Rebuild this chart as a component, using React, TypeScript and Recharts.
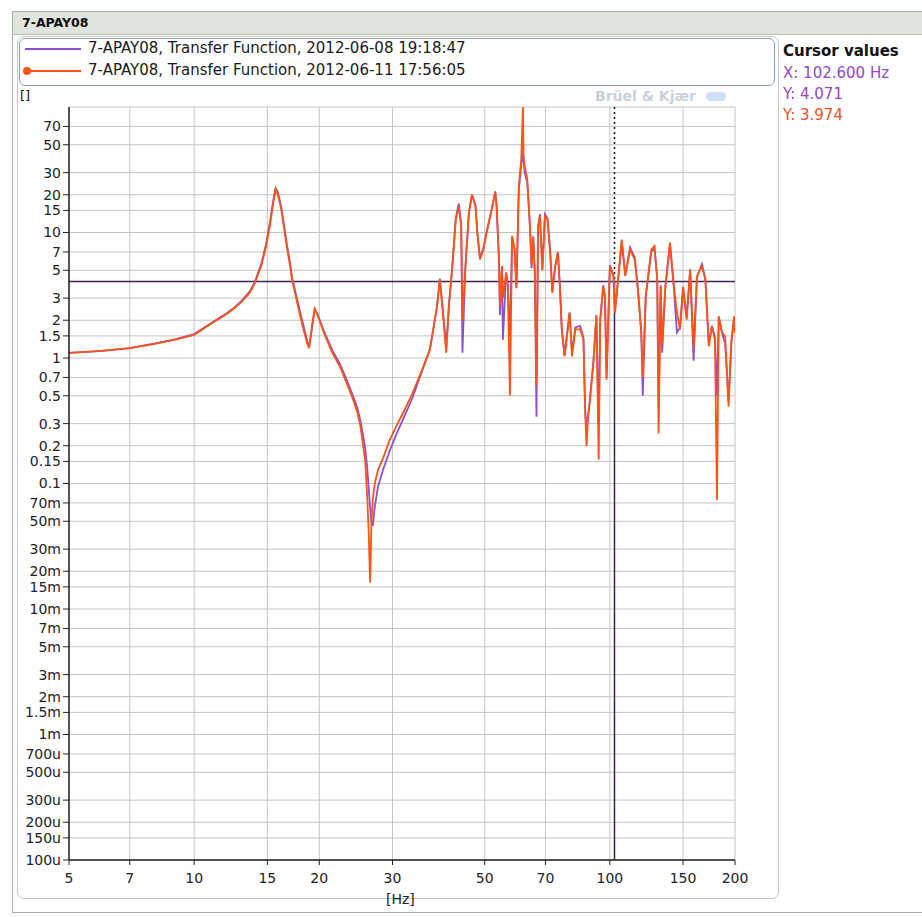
import React from 'react';
import { LineChart, Line, XAxis, YAxis, CartesianGrid, ReferenceLine } from 'recharts';

// Frequencies [Hz]
const freqHz = [
  5, 5.5, 6, 7, 8, 9, 10, 11, 12, 12.5,
  13, 13.6, 14.0, 14.5, 14.9, 15.2, 15.5, 15.7, 15.9, 16.2,
  16.7, 17.0, 17.2, 17.7, 18.0, 18.4, 18.7, 18.9, 19.2, 19.5,
  19.8, 20.5, 21.5, 22.4, 23.2, 24.1, 24.7, 25.1, 25.5, 25.8,
  26.1, 26.3, 26.5, 26.7, 26.9, 27.2, 27.7, 28.5, 29.5, 30.7,
  32, 33.5, 34.3, 35.2, 35.9, 36.9, 37.5, 38.4, 39.0, 39.8,
  40.4, 41.0, 41.8, 42.6, 43.3, 43.9, 44.2, 44.9, 45.8, 46.6,
  47.5, 48.0, 48.7, 49.6, 50.5, 52.0, 53.0, 53.4, 54.1, 54.4,
  55.0, 55.3, 56.3, 56.8, 57.5, 58.2, 59.0, 59.6, 60.4, 61.2,
  61.8, 62.0, 62.4, 63.3, 64.3, 64.8, 65.4, 66.0, 66.6, 67.2,
  67.9, 68.8, 69.8, 70.8, 71.8, 72.7, 73.9, 75.0, 75.9, 76.6,
  77.8, 78.5, 80.0, 81.1, 82.6, 84.8, 86.4, 87.2, 87.9, 88.5,
  89.6, 91.3, 92.8, 94.0, 94.8, 96.4, 97.3, 98.2, 100.0, 102.0,
  102.9, 104.9, 106.8, 108.9, 111.8, 114.8, 116.8, 119.0, 120.0, 122.0,
  125.8, 128.0, 130.0, 131.0, 132.5, 133.6, 136.0, 139.5, 142.0, 145.0,
  147.5, 150.0, 153.0, 156.0, 159.0, 162.0, 166.5, 169.7, 173.0, 176.0,
  179.0, 181.0, 182.8, 186.0, 189.4, 193.0, 196.0, 199.0, 200,
];

// 7-APAY08, Transfer Function, 2012-06-08 19:18:47 (purple)
const tf20120608 = [
  1.1, 1.12, 1.14, 1.2, 1.3, 1.41, 1.55, 1.9, 2.28, 2.53,
  2.85, 3.38, 4.05, 5.6, 8.1, 11.8, 18, 22.5, 21, 16,
  8.2, 5.8, 4.4, 2.9, 2.3, 1.7, 1.38, 1.22, 1.7, 2.45,
  2.25, 1.65, 1.15, 0.9, 0.69, 0.5, 0.4, 0.32, 0.24, 0.19,
  0.13, 0.09, 0.065, 0.05, 0.046, 0.065, 0.095, 0.13, 0.18, 0.25,
  0.34, 0.48, 0.6, 0.76, 0.91, 1.17, 1.6, 2.6, 4.3, 2.1,
  1.2, 2.6, 5.5, 13, 17, 11.5, 1.1, 5.1, 14.3, 20,
  16.5, 10, 6.3, 7.4, 10, 15.5, 21, 16.5, 6.2, 2.2,
  5.4, 1.4, 4.8, 3.9, 1.5, 9.2, 7.3, 3.6, 22, 34,
  45, 38, 30, 25, 10.5, 5.2, 9.3, 4.7, 0.34, 11,
  14, 5.0, 14, 13, 7.3, 3.4, 5.4, 7.0, 3.5, 1.75,
  1.05, 1.35, 2.3, 1.1, 1.75, 1.8, 1.45, 0.4, 0.26, 0.33,
  0.48, 0.95, 2.2, 0.3, 2.0, 3.8, 3.1, 0.7, 5.5, 4.6,
  2.4, 4.6, 8.5, 4.6, 7.6, 6.3, 3.6, 1.6, 0.5, 3.1,
  7.0, 7.6, 4.3, 0.4, 3.8, 1.1, 3.7, 8.0, 4.3, 1.6,
  1.75, 3.6, 2.1, 5.0, 0.95, 4.4, 5.6, 4.3, 1.3, 1.8,
  1.45, 0.5, 2.1, 1.6, 1.3, 0.45, 1.35, 2.1, 1.6,
];

// 7-APAY08, Transfer Function, 2012-06-11 17:56:05 (orange)
const tf20120611 = [
  1.1, 1.12, 1.14, 1.2, 1.29, 1.4, 1.53, 1.88, 2.25, 2.5,
  2.8, 3.3, 3.97, 5.4, 7.8, 11.2, 17.2, 22.3, 20, 15.3,
  7.8, 5.5, 4.2, 2.75, 2.15, 1.6, 1.32, 1.2, 1.8, 2.47,
  2.2, 1.6, 1.1, 0.86, 0.65, 0.47, 0.37, 0.29, 0.2, 0.15,
  0.075, 0.04, 0.0163, 0.05, 0.075, 0.1, 0.129, 0.16, 0.22, 0.29,
  0.38, 0.52, 0.63, 0.78, 0.92, 1.17, 1.6, 2.59, 4.2, 2.02,
  1.1, 2.6, 5.4, 12.7, 16.2, 11.2, 2.0, 5.1, 14.3, 20,
  16.2, 9.9, 6.1, 7.3, 9.9, 15.2, 21.3, 16.2, 6.1, 2.6,
  5.4, 3.0, 4.8, 3.9, 0.5, 9.4, 7.3, 3.7, 23.4, 38,
  101, 40, 33.8, 26.4, 10.6, 5.4, 9.3, 4.77, 0.6, 11.2,
  13.5, 5.1, 13.5, 12.7, 7.3, 3.3, 5.4, 6.9, 3.5, 1.69,
  1.03, 1.3, 2.3, 1.03, 1.69, 1.69, 1.4, 0.37, 0.198, 0.32,
  0.47, 0.92, 2.15, 0.155, 2.0, 3.7, 3.1, 0.67, 5.4, 4.5,
  2.3, 4.5, 8.8, 4.5, 7.3, 6.1, 3.5, 1.6, 0.7, 3.1,
  7.3, 7.8, 4.2, 0.25, 3.7, 1.3, 3.7, 8.3, 4.2, 2.3,
  1.69, 3.7, 2.02, 5.1, 1.2, 4.5, 5.4, 4.2, 1.24, 1.8,
  1.4, 0.074, 2.15, 1.6, 1.49, 0.41, 1.32, 2.15, 1.6,
];

const xTicks = [5, 7, 10, 15, 20, 30, 50, 70, 100, 150, 200];
const yTicks = [
  0.0001, 0.00015, 0.0002, 0.0003, 0.0005, 0.0007, 0.001, 0.0015, 0.002, 0.003,
  0.005, 0.007, 0.01, 0.015, 0.02, 0.03, 0.05, 0.07, 0.1, 0.15,
  0.2, 0.3, 0.5, 0.7, 1, 1.5, 2, 3, 5, 7,
  10, 15, 20, 30, 50, 70,
];
const yTickLabels = [
  '100u', '150u', '200u', '300u', '500u', '700u', '1m', '1.5m', '2m', '3m',
  '5m', '7m', '10m', '15m', '20m', '30m', '50m', '70m', '0.1', '0.15',
  '0.2', '0.3', '0.5', '0.7', '1', '1.5', '2', '3', '5', '7',
  '10', '15', '20', '30', '50', '70',
];

const legendLabels = [
  '7-APAY08, Transfer Function, 2012-06-08 19:18:47',
  '7-APAY08, Transfer Function, 2012-06-11 17:56:05',
];
const cursorX = 102.6;
const cursorY1 = 4.071;
const cursorY2 = 3.974;

const PURPLE = '#8a4fd2';
const ORANGE = '#ff5214';
const FONT = '"DejaVu Sans", Verdana, sans-serif';

const rows = freqHz.map((f, i) => ({ f, a: tf20120608[i], b: tf20120611[i] }));

const fmtY = (v: number) => {
  let best = 0;
  let bd = Infinity;
  yTicks.forEach((t, i) => {
    const d = Math.abs(Math.log(t) - Math.log(v));
    if (d < bd) { bd = d; best = i; }
  });
  return yTickLabels[best];
};

export default function App() {
  return (
    <div style={{ position: 'fixed', left: 0, top: 0, width: 922, height: 917, background: '#fff', fontFamily: FONT, overflow: 'hidden' }}>
      {/* outer panel */}
      <div style={{ position: 'absolute', left: 12, top: 11, width: 912, height: 902, border: '1px solid #a8b0a8', boxSizing: 'border-box' }} />
      {/* title bar */}
      <div style={{ position: 'absolute', left: 13, top: 12, width: 910, height: 23, background: '#dfe5dd', borderBottom: '1px solid #b4beb4', boxSizing: 'border-box' }} />
      <div style={{ position: 'absolute', left: 22, top: 15, fontSize: 12.5, fontWeight: 'bold', color: '#111' }}>7-APAY08</div>
      {/* plot panel */}
      <div style={{ position: 'absolute', left: 17, top: 36, width: 762, height: 863, border: '1px solid #c2c8c2', borderRadius: 7, boxSizing: 'border-box' }} />
      {/* legend box */}
      <div style={{ position: 'absolute', left: 19, top: 38, width: 756, height: 48, border: '1px solid #8e9eb6', borderRadius: 6, boxSizing: 'border-box' }} />
      <div style={{ position: 'absolute', left: 25, top: 48, width: 56, height: 1.5, background: PURPLE }} />
      <div style={{ position: 'absolute', left: 26, top: 70, width: 55, height: 1.5, background: ORANGE }} />
      <div style={{ position: 'absolute', left: 23, top: 67, width: 8, height: 8, borderRadius: 4, background: ORANGE }} />
      <div style={{ position: 'absolute', left: 88, top: 39, fontSize: 15, color: '#1a1a1a', whiteSpace: 'nowrap' }}>{legendLabels[0]}</div>
      <div style={{ position: 'absolute', left: 88, top: 61, fontSize: 15, color: '#1a1a1a', whiteSpace: 'nowrap' }}>{legendLabels[1]}</div>
      {/* unit */}
      <div style={{ position: 'absolute', left: 20, top: 88, fontSize: 13, color: '#111' }}>[]</div>
      {/* watermark */}
      <div style={{ position: 'absolute', left: 595, top: 88, fontSize: 14, fontWeight: 'bold', color: '#c9d0da', whiteSpace: 'nowrap' }}>Brüel &amp; Kjær</div>
      <div style={{ position: 'absolute', left: 706, top: 92, width: 20, height: 9, borderRadius: 5, background: '#cfe0f2' }} />
      {/* cursor values */}
      <div style={{ position: 'absolute', left: 783, top: 42, fontSize: 15, fontWeight: 'bold', color: '#111', whiteSpace: 'nowrap' }}>Cursor values</div>
      <div style={{ position: 'absolute', left: 783, top: 64, fontSize: 15, color: '#9447c4', whiteSpace: 'nowrap' }}>{`X: ${cursorX.toFixed(3)} Hz`}</div>
      <div style={{ position: 'absolute', left: 783, top: 85, fontSize: 15, color: '#9447c4', whiteSpace: 'nowrap' }}>{`Y: ${cursorY1.toFixed(3)}`}</div>
      <div style={{ position: 'absolute', left: 783, top: 106, fontSize: 15, color: '#f0501e', whiteSpace: 'nowrap' }}>{`Y: ${cursorY2.toFixed(3)}`}</div>
      {/* x-axis unit */}
      <div style={{ position: 'absolute', left: 386, top: 891, fontSize: 14, color: '#222' }}>[Hz]</div>

      <div style={{ position: 'absolute', left: 0, top: 0 }}>
        <LineChart width={922} height={917} data={rows} margin={{ top: 107, right: 187, bottom: 27, left: 9 }}>
          <CartesianGrid stroke="#c4c4c4" strokeWidth={1} />
          <XAxis
            dataKey="f"
            type="number"
            scale="log"
            domain={[5, 200]}
            allowDataOverflow
            ticks={xTicks}
            interval={0}
            height={30}
            tickSize={5}
            tickMargin={8}
            tick={{ fill: '#222', fontSize: 14, fontFamily: FONT }}
            axisLine={{ stroke: '#222', strokeWidth: 1.5 }}
            tickLine={{ stroke: '#222' }}
          />
          <YAxis
            type="number"
            scale="log"
            domain={[0.0001, 100]}
            allowDataOverflow
            ticks={yTicks}
            interval={0}
            width={60}
            tickSize={6}
            tickMargin={2}
            tickFormatter={fmtY}
            tick={{ fill: '#222', fontSize: 14, fontFamily: FONT }}
            axisLine={{ stroke: '#222', strokeWidth: 1.5 }}
            tickLine={{ stroke: '#222' }}
          />
          <ReferenceLine y={cursorY1} stroke="#3c2450" strokeWidth={1.5} />
          <ReferenceLine segment={[{ x: cursorX, y: 100 }, { x: cursorX, y: cursorY1 }]} stroke="#111" strokeWidth={1.5} strokeDasharray="2 3" />
          <ReferenceLine segment={[{ x: cursorX, y: cursorY1 }, { x: cursorX, y: 0.0001 }]} stroke="#3c2450" strokeWidth={1.5} />
          <Line dataKey="a" stroke={PURPLE} strokeWidth={1.8} dot={false} isAnimationActive={false} type="linear" />
          <Line dataKey="b" stroke={ORANGE} strokeWidth={1.8} dot={false} isAnimationActive={false} type="linear" />
        </LineChart>
      </div>
    </div>
  );
}
